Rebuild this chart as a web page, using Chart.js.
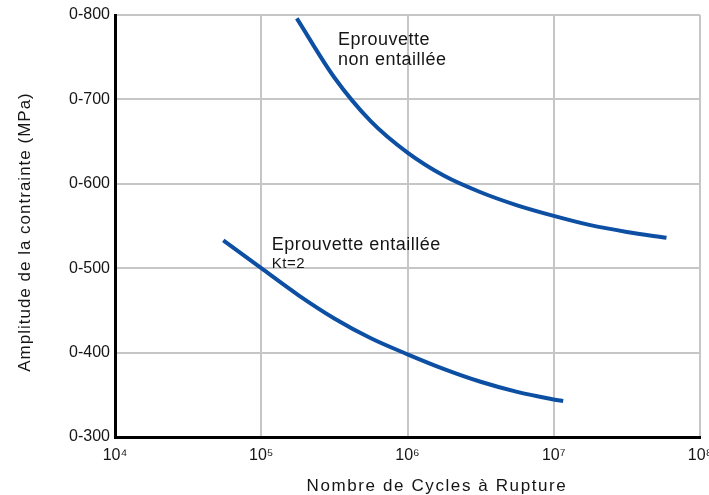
<!DOCTYPE html>
<html lang="fr">
<head>
<meta charset="utf-8">
<title>Courbes de Wöhler</title>
<script src="https://cdn.jsdelivr.net/npm/chart.js@4/dist/chart.umd.min.js"></script>
<style>
  html, body { margin: 0; padding: 0; background: #ffffff; }
  #wrap { width: 709px; height: 495px; position: relative; }
  canvas { display: block; }
</style>
</head>
<body>
<div id="wrap"><canvas id="sn" width="709" height="495"></canvas></div>
<script>
// S-N curves: stress amplitude versus number of cycles to failure
const unnotchedCycles = [1.75e5, 3.16e5, 5.62e5, 1.0e6, 1.78e6, 3.16e6, 5.62e6, 1.0e7, 1.78e7, 3.16e7, 5.9e7];
const unnotchedStress = [796, 726, 674, 637, 609.5, 590, 574.5, 562, 551, 543, 536];

const notchedCycles = [5.5e4, 1.0e5, 1.78e5, 3.16e5, 5.62e5, 1.0e6, 1.78e6, 3.16e6, 5.62e6, 1.0e7, 1.16e7];
const notchedStress = [533, 500, 468.5, 440.5, 417, 398, 380.5, 365.5, 353.5, 344.5, 342.5];

const xTickValues = [1e4, 1e5, 1e6, 1e7, 1e8];
const xTickLabels = ['10\u2074', '10\u2075', '10\u2076', '10\u2077', '10\u2078'];
const yTickValues = [300, 400, 500, 600, 700, 800];
const yTickLabels = ['0-300', '0-400', '0-500', '0-600', '0-700', '0-800'];

const xTitle = 'Nombre de Cycles \u00e0 Rupture';
const yTitle = 'Amplitude de la contrainte (MPa)';

// curve annotations, anchored in data coordinates
const noteTexts = ['Eprouvette', 'non entaill\u00e9e', 'Eprouvette entaill\u00e9e', 'Kt=2'];
const noteAnchors = [
  { x: 3.35e5, y: 765, size: 18 },
  { x: 3.35e5, y: 741, size: 18 },
  { x: 1.18e5, y: 522, size: 18 },
  { x: 1.18e5, y: 500.5, size: 15 }
];

const FONT = '"Liberation Sans", Arial, Helvetica, sans-serif';
const BLUE = '#0c4fa3';
const INK = '#151515';

const toPoints = (xs, ys) => xs.map((x, i) => ({ x, y: ys[i] }));

const textPlugin = {
  id: 'axisTextAndNotes',
  afterDraw(chart) {
    const { ctx, scales } = chart;
    ctx.save();
    ctx.fillStyle = INK;

    // x axis title
    ctx.font = '17px ' + FONT;
    ctx.letterSpacing = '1.6px';
    ctx.textAlign = 'center';
    ctx.textBaseline = 'alphabetic';
    ctx.fillText(xTitle, 437, 490.5);

    // y axis title, rotated
    ctx.save();
    ctx.translate(29.5, 232);
    ctx.rotate(-Math.PI / 2);
    ctx.font = '17px ' + FONT;
    ctx.letterSpacing = '1px';
    ctx.fillText(yTitle, 0, 0);
    ctx.restore();

    // notes beside the curves
    ctx.textAlign = 'left';
    ctx.letterSpacing = '0.5px';
    noteTexts.forEach((t, i) => {
      const a = noteAnchors[i];
      ctx.font = a.size + 'px ' + FONT;
      ctx.fillText(t, scales.x.getPixelForValue(a.x), scales.y.getPixelForValue(a.y));
    });
    ctx.restore();
  }
};

const curveStyle = {
  borderColor: BLUE,
  borderWidth: 4,
  pointRadius: 0,
  fill: false,
  cubicInterpolationMode: 'monotone',
  borderCapStyle: 'butt'
};

new Chart(document.getElementById('sn'), {
  type: 'line',
  data: {
    datasets: [
      Object.assign({ label: 'Eprouvette non entaill\u00e9e', data: toPoints(unnotchedCycles, unnotchedStress) }, curveStyle),
      Object.assign({ label: 'Eprouvette entaill\u00e9e Kt=2', data: toPoints(notchedCycles, notchedStress) }, curveStyle)
    ]
  },
  options: {
    responsive: false,
    devicePixelRatio: 1,
    animation: false,
    layout: { padding: { top: 15, right: 9, bottom: 0, left: 0 } },
    plugins: {
      legend: { display: false },
      tooltip: { enabled: false }
    },
    scales: {
      x: {
        type: 'logarithmic',
        min: 1e4,
        max: 1e8,
        afterBuildTicks(scale) {
          scale.ticks = xTickValues.map(v => ({ value: v }));
        },
        afterFit(scale) {
          scale.height = 58;
          scale.paddingRight = 0;
          scale.paddingLeft = 0;
        },
        ticks: {
          autoSkip: false,
          maxRotation: 0,
          padding: 9,
          color: INK,
          font: { family: FONT, size: 16 },
          callback(value) {
            const i = xTickValues.indexOf(value);
            return i >= 0 ? xTickLabels[i] : '';
          }
        },
        grid: {
          drawTicks: false,
          lineWidth: 2,
          color: ctx => (ctx.tick && ctx.tick.value === 1e4) ? 'rgba(0,0,0,0)' : '#c6c6c6'
        },
        border: { display: true, color: '#000000', width: 3 }
      },
      y: {
        type: 'linear',
        min: 300,
        max: 800,
        afterBuildTicks(scale) {
          scale.ticks = yTickValues.map(v => ({ value: v }));
        },
        afterFit(scale) {
          scale.width = 115;
          scale.paddingTop = 0;
          scale.paddingBottom = 0;
        },
        ticks: {
          padding: 5,
          color: INK,
          font: { family: FONT, size: 16 },
          callback(value) {
            const i = yTickValues.indexOf(value);
            return i >= 0 ? yTickLabels[i] : '';
          }
        },
        grid: {
          drawTicks: false,
          lineWidth: 2,
          color: ctx => (ctx.tick && ctx.tick.value === 300) ? 'rgba(0,0,0,0)' : '#c6c6c6'
        },
        border: { display: true, color: '#000000', width: 3 }
      }
    }
  },
  plugins: [textPlugin]
});
</script>
</body>
</html>
